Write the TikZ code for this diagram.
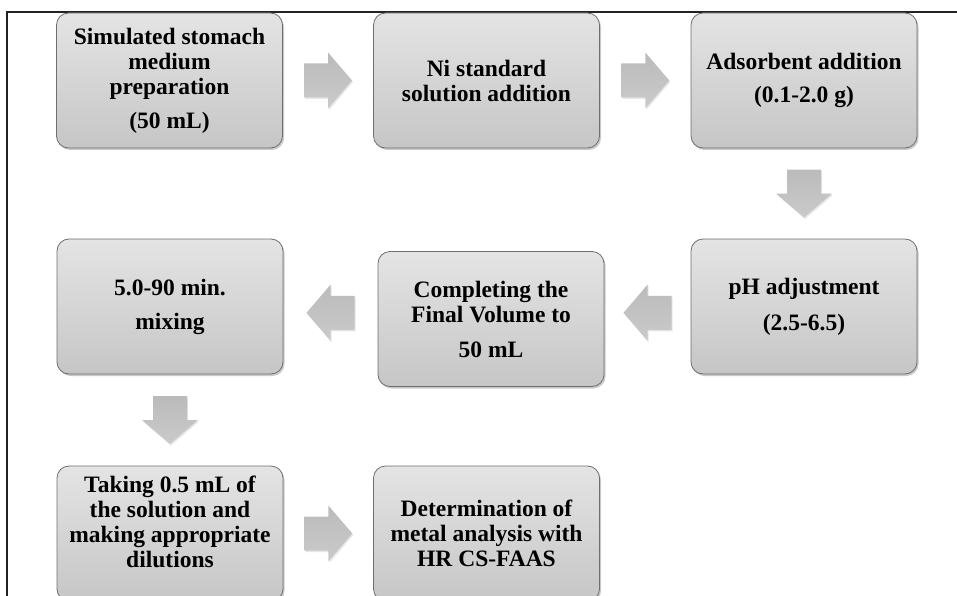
\documentclass[tikz,border=0pt]{standalone}
\usepackage{fontspec}
\setmainfont{Liberation Serif}
\usetikzlibrary{calc,shadows}
\definecolor{boxtop}{HTML}{E4E4E4}
\definecolor{boxbottom}{HTML}{C6C6C6}
\definecolor{boxline}{HTML}{6E6E6E}
\definecolor{arrowtop}{HTML}{BBBBBB}
\definecolor{arrowbottom}{HTML}{CACACA}
\definecolor{framegrey}{HTML}{222222}
\newcommand{\blockarrow}[2]{% {position}{angle}
  \begin{scope}[shift={#1},rotate=#2]
    % Shaft and head
    \shade[top color=arrowtop,bottom color=arrowbottom,
      drop shadow={shadow xshift=1pt,shadow yshift=-1.5pt,opacity=0.2,fill=black!50}]
      (-24,-17) -- (0,-17) -- (0,-28) -- (24,0) -- (0,28) -- (0,17) -- (-24,17) -- cycle;
  \end{scope}
}

\begin{document}
\begin{tikzpicture}[x=1pt,y=-1pt,
  stage/.style={draw=boxline,line width=0.8pt,rounded corners=12pt,
    top color=boxtop,bottom color=boxbottom,
    minimum width=226pt,minimum height=135pt,inner sep=2pt,align=center,
    font=\fontsize{23.5}{25}\selectfont\bfseries,
    drop shadow={shadow xshift=1.5pt,shadow yshift=-2pt,opacity=0.35,fill=black!60}}]
  \useasboundingbox (0,0) rectangle (957,596);
  \clip (0,0) rectangle (957,596);
  % Frame (left and top only)
  \draw[framegrey,line width=1.5pt] (7,600) -- (7,12) -- (960,12);
  % Row 1
  \node[stage] (prep) at (169.5,80.5) {Simulated stomach\\ medium\\ preparation\\[9pt] (50 mL)};
  \node[stage] (nistd) at (486.5,80.5) {Ni standard\\ solution addition};
  \node[stage] (adsorb) at (804,80.5) {Adsorbent addition\\[8pt] (0.1-2.0 g)};
  % Row 2
  \node[stage] (phadj) at (804,306.5) {pH adjustment\\[11pt] (2.5-6.5)};
  \node[stage] (finalvol) at (491,319) {Completing the\\ Final Volume to\\[10pt] 50 mL};
  \node[stage] (mixing) at (170,306.5) {5.0-90 min.\\[9pt] mixing};
  % Row 3
  \node[stage,text depth=24pt] (dilute) at (170,533.5) {Taking 0.5 mL of\\ the solution and\\ making appropriate\\ dilutions};
  \node[stage] (determ) at (486.5,533.5) {Determination of\\ metal analysis with\\ HR CS-FAAS};
  % Block arrows
  \blockarrow{($(prep.east)!0.5!(nistd.west)$)}{0}
  \blockarrow{($(nistd.east)!0.5!(adsorb.west)$)}{0}
  \blockarrow{($(adsorb.south)!0.5!(phadj.north)$)}{-90}
  \blockarrow{($(phadj.west)!0.5!(finalvol.east)$)}{180}
  \blockarrow{($(finalvol.west)!0.5!(mixing.east)$)}{180}
  \blockarrow{($(mixing.south)!0.5!(dilute.north)$)}{-90}
  \blockarrow{($(dilute.east)!0.5!(determ.west)$)}{0}
\end{tikzpicture}
\end{document}
